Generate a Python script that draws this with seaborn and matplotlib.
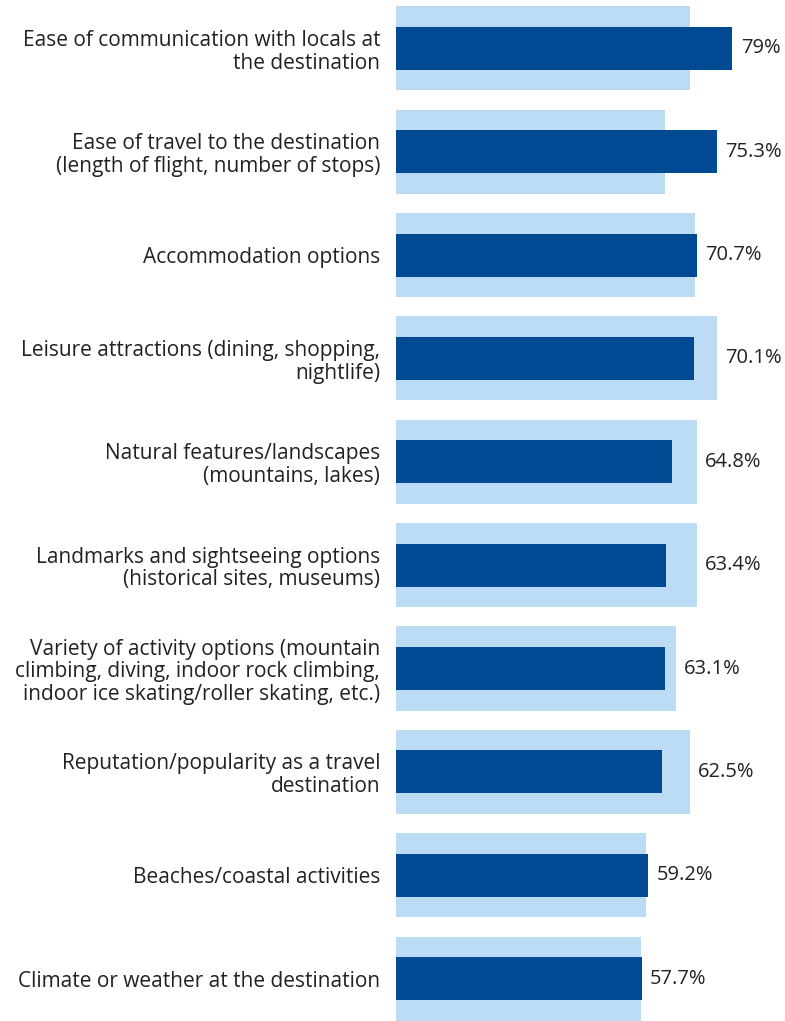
import pandas as pd
import seaborn as sns
import matplotlib.pyplot as plt

# Data
categories = [
    "Ease of communication with locals at\nthe destination",
    "Ease of travel to the destination\n(length of flight, number of stops)",
    "Accommodation options",
    "Leisure attractions (dining, shopping,\nnightlife)",
    "Natural features/landscapes\n(mountains, lakes)",
    "Landmarks and sightseeing options\n(historical sites, museums)",
    "Variety of activity options (mountain\nclimbing, diving, indoor rock climbing,\nindoor ice skating/roller skating, etc.)",
    "Reputation/popularity as a travel\ndestination",
    "Beaches/coastal activities",
    "Climate or weather at the destination",
]
current_pct = [79.0, 75.3, 70.7, 70.1, 64.8, 63.4, 63.1, 62.5, 59.2, 57.7]
previous_pct = [69.0, 63.2, 70.2, 75.3, 70.6, 70.7, 65.7, 69.0, 58.7, 57.6]
value_labels = ["79%", "75.3%", "70.7%", "70.1%", "64.8%", "63.4%", "63.1%", "62.5%", "59.2%", "57.7%"]

df = pd.DataFrame({"Factor": categories, "Current": current_pct, "Previous": previous_pct})

sns.set_style("white")
plt.rcParams['font.family'] = ['Open Sans', 'DejaVu Sans']

fig = plt.figure(figsize=(7.85, 10.21), dpi=100)
left = 395.5 / 785
ax = fig.add_axes([left, 0, 1 - left, 1])

# Light background bars (wide), dark bars on top (narrow)
sns.barplot(data=df, x="Previous", y="Factor", orient="h", color="#bcdcf6",
            width=0.813, saturation=1, linewidth=0, ax=ax)
sns.barplot(data=df, x="Current", y="Factor", orient="h", color="#004a93",
            width=0.416, saturation=1, linewidth=0, ax=ax)

# Value labels just right of the longer of the two bars
for i, (c, p, lab) in enumerate(zip(current_pct, previous_pct, value_labels)):
    ax.annotate(lab, xy=(max(c, p), i), xytext=(6, 0), textcoords="offset points",
                va="center", ha="left", fontsize=14.5, color="#222222")

ax.set_xlim(0, (785 - 395.5) / 4.265)
ax.set_ylim(9.411, -0.469)
ax.set_xlabel("")
ax.set_ylabel("")
ax.set_xticks([])
ax.tick_params(axis="y", length=0, pad=11, labelsize=15, labelcolor="#222222")
for t in ax.get_yticklabels():
    t.set_linespacing(1.1)
for s in ax.spines.values():
    s.set_visible(False)

plt.savefig("out.png", dpi=100)
